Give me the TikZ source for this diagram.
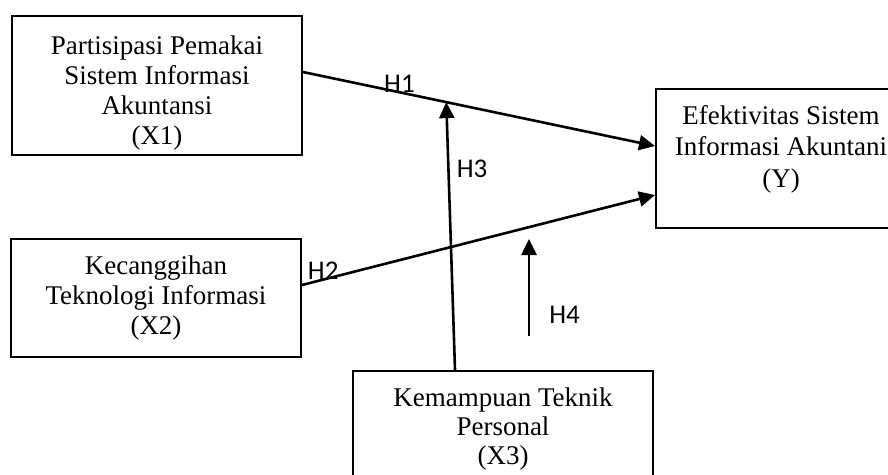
\documentclass[tikz,border=0pt]{standalone}
\usepackage{fontspec}
\setmainfont{Liberation Serif}
\newfontfamily\hlabelfont{Carlito}
\usetikzlibrary{arrows.meta}
\tikzset{
  varbox/.style={draw, line width=2pt, anchor=north west, inner sep=0pt},
  vartext/.style={align=center, anchor=north, inner sep=0pt, execute at begin node=\strut,
    font=\fontsize{27}{30}\selectfont},
  hyp/.style={line width=2.6pt, -{Triangle[length=16pt,width=15pt]}},
  hlabel/.style={font=\hlabelfont\fontsize{27}{30}\selectfont, inner sep=0pt}
}
\begin{document}
\begin{tikzpicture}[x=1pt,y=-1pt]
  \useasboundingbox (0,0) rectangle (888,474);
  \clip (0,0) rectangle (888,474);

  \node[varbox, minimum width=290, minimum height=139] (x1) at (11,15) {};
  \node[vartext, yshift=-21pt] (x1text) at (x1.north) {Partisipasi Pemakai\\Sistem Informasi\\Akuntansi\\(X1)};
  \node[varbox, minimum width=290, minimum height=118] (x2) at (10,238) {};
  \node[vartext, yshift=-18pt] (x2text) at (x2.north) {Kecanggihan\\Teknologi Informasi\\(X2)};
  \node[varbox, minimum width=300, minimum height=130] (x3) at (352,370) {};
  \node[vartext, yshift=-18pt, font=\fontsize{27}{29}\selectfont] (x3text) at (x3.north) {Kemampuan Teknik\\Personal\\(X3)};
  \node[varbox, minimum width=250, minimum height=139] (y) at (655,88) {};
  \node[vartext, yshift=-17pt, font=\fontsize{27}{31.5}\selectfont] (ytext) at (y.north) {Efektivitas Sistem\\Informasi Akuntani\\(Y)};

  \coordinate (h4s) at (529,336);
  \coordinate (h4e) at (529,239);

  \draw[hyp] ([yshift=13.5]x1.east) -- coordinate[pos=0.407] (m1) node[hlabel, pos=0.274, anchor=base] (h1) {H1} ([yshift=12.5]y.west);
  \draw[hyp] ([yshift=13]x2.east) -- node[hlabel, pos=0.06, anchor=base] (h2) {H2} ([yshift=-36.5]y.west);
  \draw[hyp] ([xshift=-48]x3.north) -- node[hlabel, pos=0.75, right=7pt] (h3) {H3} (m1);
  \draw[hyp] (h4s) -- node[hlabel, pos=0.216, right=19pt] (h4) {H4} (h4e);
\end{tikzpicture}
\end{document}
